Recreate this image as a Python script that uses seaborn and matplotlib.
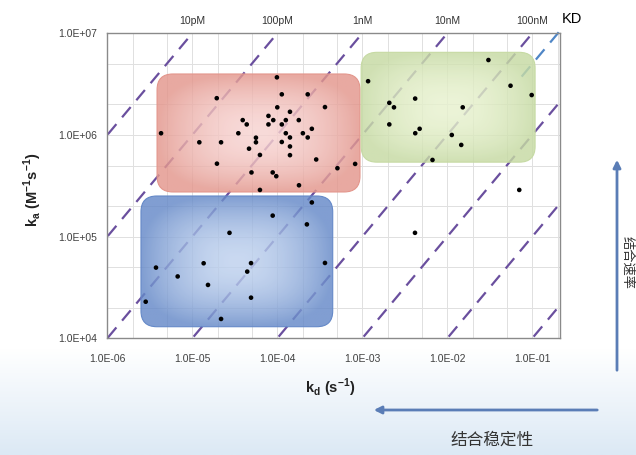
import numpy as np
import pandas as pd
import seaborn as sns
import matplotlib.pyplot as plt
from matplotlib.patches import FancyBboxPatch, FancyArrowPatch
from matplotlib.ticker import LogLocator, FuncFormatter, NullFormatter
from matplotlib.colors import to_rgb
import matplotlib.transforms as mtrans

# dissociation rate constants (s^-1)
kd = [1.94e-5, 3.92e-5, 4.37e-5, 3.48e-5, 4.29e-6, 1.21e-5, 2.18e-5, 5.61e-5, 5.61e-5, 4.65e-5,
      6.25e-5, 1.95e-5, 4.97e-5, 9.9e-5, 1.13e-4, 2.28e-4, 3.64e-4, 1.0e-4, 1.41e-4, 7.87e-5,
      8.97e-5, 1.26e-4, 1.79e-4, 7.87e-5, 1.13e-4, 2.55e-4, 1.26e-4, 2.0e-4, 1.41e-4, 2.28e-4,
      1.13e-4, 1.41e-4, 1.41e-4, 2.87e-4, 8.83e-5, 9.73e-5, 8.24e-4, 5.1e-4, 1.80e-4, 6.25e-5,
      3.05e-2, 1.17e-3, 5.55e-2, 9.84e-2, 4.19e-3, 2.08e-3, 2.36e-3, 1.52e-2, 2.08e-3, 4.73e-3,
      4.2e-3, 1.13e-2, 1.46e-2, 6.7e-3, 7.03e-2, 4.17e-3,
      2.55e-4, 2.23e-4, 2.74e-5, 8.83e-5, 3.74e-6, 1.36e-5, 6.73e-6, 1.53e-5, 2.83e-6, 2.18e-5,
      4.91e-5, 4.43e-5, 3.64e-4, 4.91e-5]
# association rate constants (M^-1 s^-1)
ka = [2.30e6, 1.40e6, 1.27e6, 1.04e6, 1.04e6, 8.47e5, 8.47e5, 9.4e5, 8.47e5, 7.33e5,
      6.36e5, 5.22e5, 4.28e5, 3.69e6, 2.51e6, 2.51e6, 1.88e6, 1.87e6, 1.69e6, 1.54e6,
      1.40e6, 1.40e6, 1.40e6, 1.27e6, 1.27e6, 1.15e6, 1.04e6, 1.04e6, 9.45e5, 9.45e5,
      8.53e5, 7.71e5, 6.33e5, 5.74e5, 4.28e5, 3.93e5, 5.19e5, 4.71e5, 3.20e5, 2.88e5,
      5.46e6, 3.38e6, 3.05e6, 2.47e6, 2.28e6, 2.07e6, 1.87e6, 1.87e6, 1.27e6, 1.15e6,
      1.04e6, 1.0e6, 7.98e5, 5.68e5, 2.88e5, 1.09e5,
      2.17e5, 1.32e5, 1.09e5, 1.61e5, 4.96e4, 5.47e4, 4.06e4, 3.35e4, 2.29e4, 1.55e4,
      5.49e4, 4.53e4, 5.51e4, 2.51e4]

kd_ticks = [1e-6, 1e-5, 1e-4, 1e-3, 1e-2, 1e-1]
ka_ticks = [1e4, 1e5, 1e6, 1e7]
kd_lim = (1e-6, 0.212)
ka_lim = (1e4, 1e7)

# iso-affinity lines (KD = kd/ka) and the labels written above the first five
KD_lines = [1e-12, 1e-11, 1e-10, 1e-9, 1e-8, 1e-7, 1e-6, 1e-5]
KD_labels = ['10pM', '100pM', '1nM', '10nM', '100nM']
KD_blue = 2e-8

# shaded regions: kd range, ka range, edge colour, centre colour
box_kd = [(3.85e-6, 9.4e-4), (9.7e-4, 0.108), (2.49e-6, 4.49e-4)]
box_ka = [(2.75e5, 3.98e6), (5.4e5, 6.5e6), (1.30e4, 2.51e5)]
box_edge = ['#e3968c', '#c6daa3', '#6589c8']
box_mid = ['#f7d3d1', '#e8f2cf', '#bed1ee']

sns.set_style("white")
plt.rcParams['font.family'] = ['Liberation Sans', 'DejaVu Sans']
cjk = ['Noto Sans CJK SC', 'DejaVu Sans']

fig = plt.figure(figsize=(6.36, 4.55), dpi=100)

# pale blue wash at the bottom of the slide
bg = fig.add_axes([0, 0, 1, 1], zorder=-1)
rows = np.linspace(0, 455, 200)
w = np.clip((rows - 350) / 105, 0, 1)[:, None]
top_c = np.array([1, 1, 1])
bot_c = np.array(to_rgb('#dce9f5'))
grad = (top_c * (1 - w) + bot_c * w)[:, None, :]
bg.imshow(grad, extent=[0, 1, 0, 1], aspect='auto', origin='upper')
bg.axis('off')

ax = fig.add_axes([107.3 / 636, 1 - 338.3 / 455, 452.7 / 636, 305 / 455])
ax.set_facecolor('white')
ax.set_xscale('log')
ax.set_yscale('log')
ax.set_xlim(kd_lim)
ax.set_ylim(ka_lim)

# grid at 1, 2, 5 per decade
for a in (ax.xaxis, ax.yaxis):
    a.set_major_locator(LogLocator(base=10, subs=[1.0]))
    a.set_minor_locator(LogLocator(base=10, subs=[2.0, 5.0]))
    a.set_minor_formatter(NullFormatter())
ax.set_xticks(kd_ticks)
ax.set_yticks(ka_ticks)
fmt = FuncFormatter(lambda v, p: f"{v:.1E}")
ax.xaxis.set_major_formatter(fmt)
ax.yaxis.set_major_formatter(fmt)
ax.grid(True, which='both', color='#e0e0e0', lw=0.7, zorder=0)
ax.set_axisbelow(True)
ax.tick_params(which='major', direction='out', length=4, width=0.8, color='#808080',
               labelsize=7.5, labelcolor='#404040', pad=3)
ax.tick_params(axis='x', pad=7)
ax.tick_params(which='minor', length=0)
for s in ax.spines.values():
    s.set_color('#8a8a8a')
    s.set_linewidth(1.0)

# iso-KD dashed lines
xs = np.array([1e-7, 1.0])
for K in KD_lines:
    sns.lineplot(x=xs, y=xs / K, ax=ax, color='#6a4f9e', lw=1.6,
                 linestyle=(0, (6, 4)), zorder=2)
xb = np.array([0.075, 0.235])
ax.plot(xb, xb / KD_blue, color='#4f86c6', lw=1.6, linestyle=(0, (6, 4)),
        zorder=2, clip_on=False)

ax.set_xlim(kd_lim)
ax.set_ylim(ka_lim)

# rounded gradient boxes (axes fraction)
to_axes = ax.transData + ax.transAxes.inverted()
u = np.linspace(-1, 1, 120)
U, V = np.meshgrid(u, u)
t = np.clip((np.abs(U) ** 3 + np.abs(V) ** 3) ** (1 / 3), 0, 1) ** 1.8
aspect = 452.7 / 305
for (x0, x1), (y0, y1), ec, mc in zip(box_kd, box_ka, box_edge, box_mid):
    (fx0, fy0), (fx1, fy1) = to_axes.transform([(x0, y0), (x1, y1)])
    patch = FancyBboxPatch((fx0, fy0), fx1 - fx0, fy1 - fy0,
                           boxstyle='round,pad=0,rounding_size=0.035',
                           mutation_aspect=aspect, transform=ax.transAxes,
                           facecolor='none', edgecolor=ec, lw=0.8, zorder=4)
    ax.add_patch(patch)
    e = np.array(to_rgb(ec))
    m = np.array(to_rgb(mc))
    img = m * (1 - t[..., None]) + e * t[..., None]
    im = ax.imshow(img, extent=(fx0, fx1, fy0, fy1), transform=ax.transAxes,
                   aspect='auto', zorder=3, alpha=0.82, interpolation='bilinear')
    im.set_clip_path(patch)

ax.set_xlim(kd_lim)
ax.set_ylim(ka_lim)

sns.scatterplot(x=kd, y=ka, ax=ax, color='black', s=11, edgecolor='none', zorder=5)

# KD labels above the plot
top = mtrans.blended_transform_factory(ax.transData, ax.transAxes)
for K, lab in zip(KD_lines, KD_labels):
    ax.text(K * ka_lim[1], 1.025, lab, transform=top, ha='center', va='bottom',
            fontsize=7.5, color='#333333')
ax.text(0.29, 1.025, 'KD', transform=top, ha='center', va='bottom',
        fontsize=10.5, color='black')

ax.set_xlabel(r'k$_\mathregular{d}$ (s$^\mathregular{-1}$)', fontsize=10.5,
              fontweight='bold', color='#222222')
ax.set_ylabel(r'k$_\mathregular{a}$ (M$^\mathregular{-1}$s$^\mathregular{-1}$)', fontsize=10.5,
              fontweight='bold', color='#222222')
ax.xaxis.set_label_coords(0.492, -0.125)
ax.yaxis.set_label_coords(-0.14, 0.486)

# arrows and Chinese captions
arrow_c = '#5a7db6'
fig.patches.append(FancyArrowPatch((600 / 636, 1 - 410 / 455), (371 / 636, 1 - 410 / 455),
                                   transform=fig.transFigure, arrowstyle='-|>',
                                   mutation_scale=11, color=arrow_c, lw=2))
fig.patches.append(FancyArrowPatch((617 / 636, 1 - 373 / 455), (617 / 636, 1 - 157 / 455),
                                   transform=fig.transFigure, arrowstyle='-|>',
                                   mutation_scale=11, color=arrow_c, lw=2))
fig.text(492 / 636, 1 - 440 / 455, '结合稳定性', ha='center', va='center',
         fontsize=12, color='#333333', family=cjk)
fig.text(634 / 636, 1 - 263 / 455, '结合速率', ha='right', va='center',
         rotation=270, fontsize=9.5, color='#333333', family=cjk)

fig.savefig('out.png', dpi=100)
